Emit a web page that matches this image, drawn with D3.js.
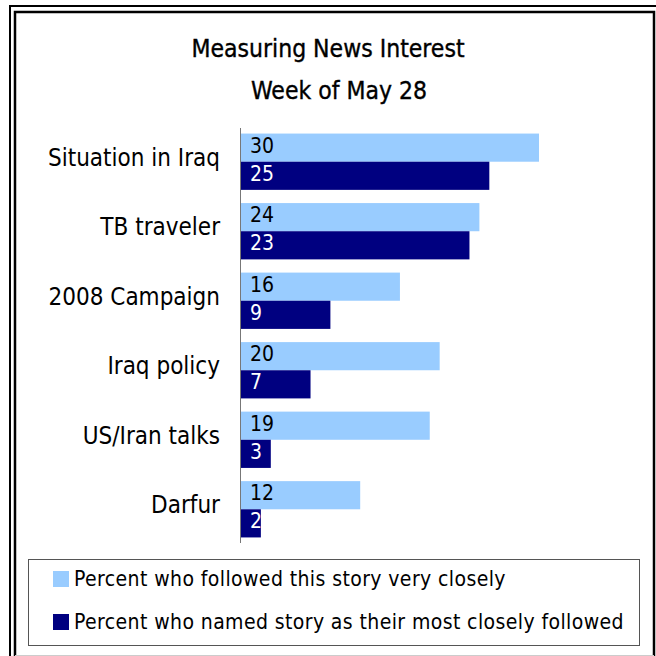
<!DOCTYPE html>
<html>
<head>
<meta charset="utf-8">
<script src="https://cdn.jsdelivr.net/npm/d3@7"></script>
<style>
  body { margin: 0; background: #fff; }
  svg { display: block; font-family: "DejaVu Sans Condensed", "DejaVu Sans", sans-serif; }
</style>
</head>
<body>
<div id="chart"></div>
<script>
// Chart data
const categories = ['Situation in Iraq', 'TB traveler', '2008 Campaign', 'Iraq policy', 'US/Iran talks', 'Darfur'];
const veryClosely = [30, 24, 16, 20, 19, 12];
const mostFollowed = [25, 23, 9, 7, 3, 2];
const seriesNames = ['Percent who followed this story very closely',
                     'Percent who named story as their most closely followed'];
const colors = ['#99ccff', '#000080'];

const width = 656, height = 656;
const svg = d3.select('#chart').append('svg')
    .attr('width', width)
    .attr('height', height);

// Frame (double line)
svg.append('rect').attr('x', 0).attr('y', 0).attr('width', width).attr('height', height).attr('fill', '#fff');
svg.append('path')
    .attr('d', 'M 10 656 L 10 6 L 656 6')
    .attr('stroke', '#000').attr('stroke-width', 2).attr('fill', 'none');
svg.append('path')
    .attr('d', 'M 15 656 L 15 12 L 654 12 L 654 656')
    .attr('stroke', '#000').attr('stroke-width', 2.5).attr('fill', 'none');
svg.append('line')
    .attr('x1', 15).attr('x2', 654).attr('y1', 655.5).attr('y2', 655.5)
    .attr('stroke', '#ccc').attr('stroke-width', 1);

// Title
const title = svg.append('g')
    .attr('text-anchor', 'middle')
    .style('font-size', '24.5px')
    .style('stroke', '#000')
    .style('stroke-width', '0.35px');
title.append('text').attr('x', 328).attr('y', 57).text('Measuring News Interest');
title.append('text').attr('x', 339).attr('y', 99).text('Week of May 28');

// Scales
const x = d3.scaleLinear().domain([0, 30]).range([241, 539]);
const y = d3.scaleBand().domain(categories).range([128, 543]).paddingInner(0.19).paddingOuter(0.08);
const sub = d3.scaleBand().domain([0, 1]).range([0, y.bandwidth()]);

const groups = svg.append('g').selectAll('g')
    .data(categories)
    .join('g')
    .attr('transform', d => `translate(0,${y(d)})`);

[veryClosely, mostFollowed].forEach((series, s) => {
    groups.append('rect')
        .attr('x', x(0))
        .attr('y', sub(s))
        .attr('width', (d, i) => x(series[i]) - x(0))
        .attr('height', sub.bandwidth())
        .attr('fill', colors[s]);

    groups.append('text')
        .attr('x', x(0) + 9)
        .attr('y', sub(s) + sub.bandwidth() / 2 + 5)
        .style('font-size', '21px')
        .style('fill', s === 0 ? '#000' : '#fff')
        .text((d, i) => series[i]);
});

// Category labels
groups.append('text')
    .attr('x', 220)
    .attr('y', y.bandwidth() / 2 + 4)
    .attr('text-anchor', 'end')
    .style('font-size', '24px')
    .text(d => d);

// Axis line
svg.append('line')
    .attr('x1', 240.5).attr('x2', 240.5)
    .attr('y1', 128).attr('y2', 543)
    .attr('stroke', '#777').attr('stroke-width', 1);

// Legend
svg.append('rect')
    .attr('x', 28.5).attr('y', 559.5)
    .attr('width', 611).attr('height', 86)
    .attr('fill', '#fff')
    .attr('stroke', '#555').attr('stroke-width', 1);

const legend = svg.append('g').selectAll('g')
    .data(seriesNames)
    .join('g')
    .attr('transform', (d, i) => `translate(53,${571 + i * 43})`);
legend.append('rect')
    .attr('width', 16).attr('height', 16)
    .attr('fill', (d, i) => colors[i]);
legend.append('text')
    .attr('x', 21).attr('y', 15)
    .style('font-size', '21px')
    .style('letter-spacing', '0.4px')
    .text(d => d);
</script>
</body>
</html>
